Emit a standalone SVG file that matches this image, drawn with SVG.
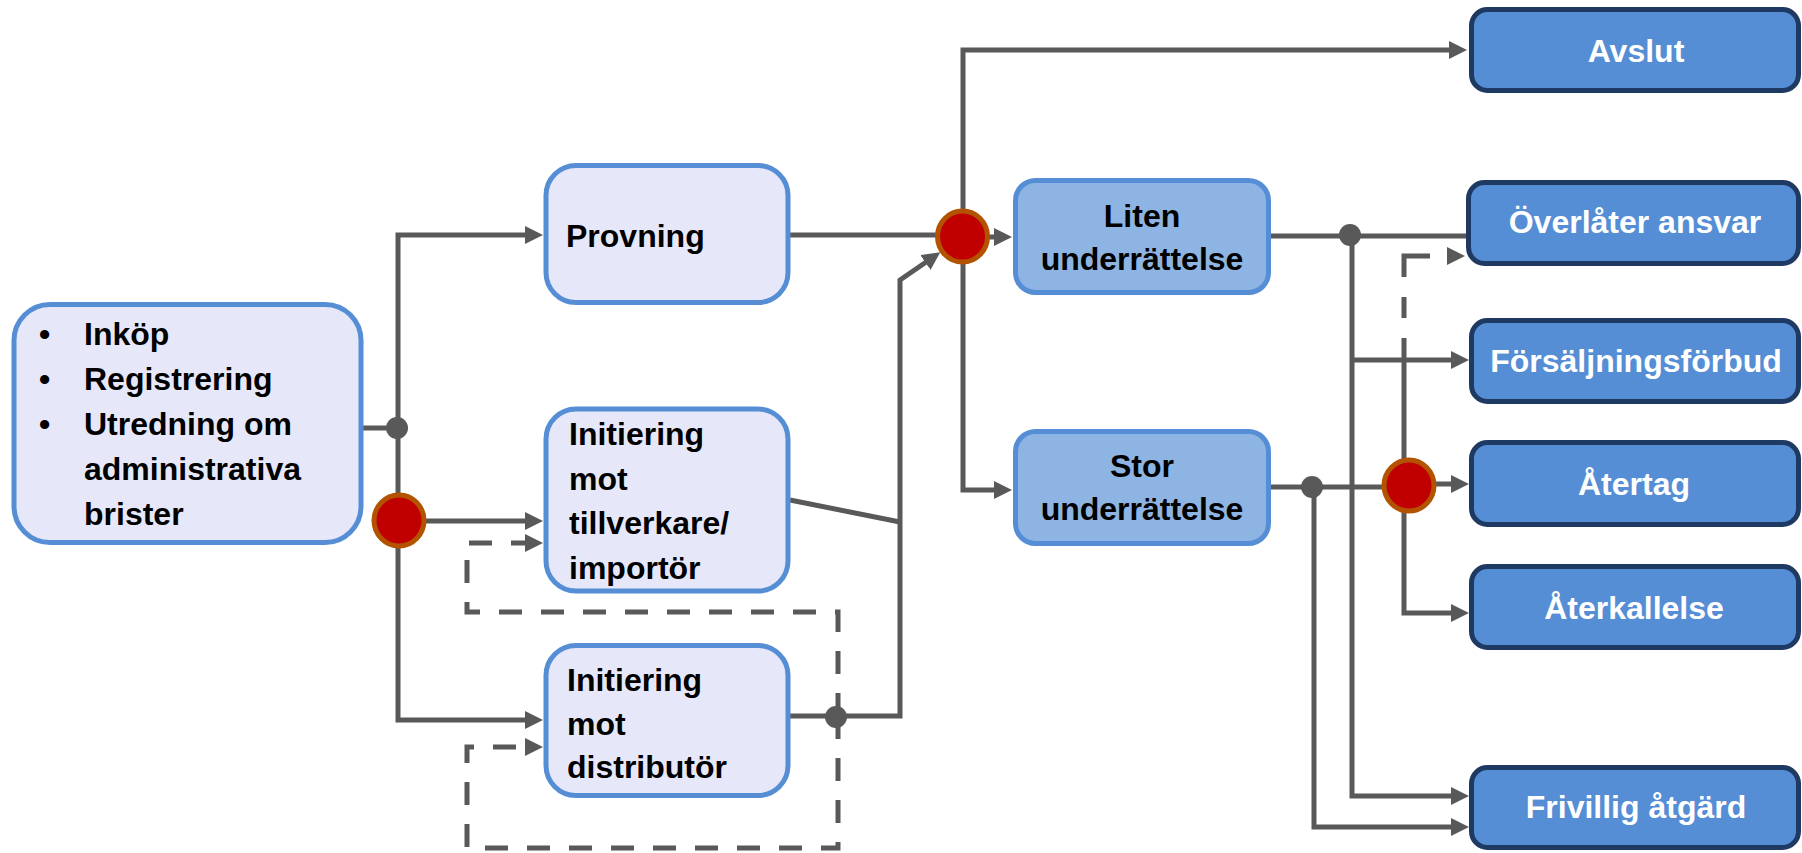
<svg xmlns="http://www.w3.org/2000/svg" width="1802" height="853" viewBox="0 0 1802 853">
  <style>
    .ln { fill: none; stroke: #595959; stroke-width: 5; }
    .arr { marker-end: url(#arrow); }
    .dash { stroke-dasharray: 23 19; }
    .dot { fill: #595959; }
    .light { fill: #E6E8FA; stroke: #558ED5; stroke-width: 5; }
    .mid { fill: #8EB4E3; stroke: #558ED5; stroke-width: 5; }
    .dark { fill: #558ED5; stroke: #1E3A62; stroke-width: 5; }
    .dec { fill: #C00000; stroke: #B35300; stroke-width: 5; }
    .t { font-family: "Liberation Sans", Arial, sans-serif; font-weight: bold; font-size: 32px; fill: #000; }
    .tw { font-family: "Liberation Sans", Arial, sans-serif; font-weight: bold; font-size: 32px; fill: #fff; text-anchor: middle; }
    .tc { text-anchor: middle; }
  </style>
  <defs>
    <marker id="arrow" markerUnits="userSpaceOnUse" markerWidth="18" markerHeight="18" viewBox="0 0 18 18" refX="8" refY="9" orient="auto">
      <path d="M0,0 L18,9 L0,18 z" fill="#595959"/>
    </marker>
  </defs>
  <rect width="1802" height="853" fill="#fff"/>

  <g id="connectors">
    <path class="ln" d="M363,428 H398"/>
    <path class="ln arr" d="M398,428 V235 H533"/>
    <path class="ln arr" d="M398,428 V720 H533"/>
    <path class="ln arr" d="M426,521 H533"/>
    <path class="ln dash arr" d="M838,716 V612 H467 V543 H533"/>
    <path class="ln dash arr" d="M838,716 V848 H467 V747 H533"/>
    <path class="ln" d="M790,500 L900,522"/>
    <path class="ln arr" d="M790,716 H900 V280 L932,258"/>
    <path class="ln" d="M790,235 H936"/>
    <path class="ln arr" d="M989,237 H1002"/>
    <path class="ln arr" d="M963,209 V50 H1457"/>
    <path class="ln arr" d="M963,264 V490 H1002"/>
    <path class="ln" d="M1271,236 H1468"/>
    <path class="ln arr" d="M1352,236 V796 H1459"/>
    <path class="ln arr" d="M1352,360 H1459"/>
    <path class="ln" d="M1271,487 H1383"/>
    <path class="ln arr" d="M1314,487 V827 H1459"/>
    <path class="ln arr" d="M1436,484 H1459"/>
    <path class="ln arr" d="M1404,512 V613 H1459"/>
    <path class="ln" d="M1404,459 V338"/>
    <path class="ln arr" style="stroke-dasharray: 0 20 21 20 47 1000" d="M1404,338 V256 H1455"/>
    <circle class="dot" cx="397" cy="428" r="11"/>
    <circle class="dot" cx="836" cy="717" r="11"/>
    <circle class="dot" cx="1350" cy="235" r="11"/>
    <circle class="dot" cx="1312" cy="487" r="11"/>
  </g>

  <g id="node-start">
    <rect class="light" x="14" y="304.5" width="347" height="238" rx="36"/>
    <text class="t" x="39" y="345">•</text><text class="t" x="84" y="345">Inköp</text>
    <text class="t" x="39" y="390">•</text><text class="t" x="84" y="390">Registrering</text>
    <text class="t" x="39" y="435">•</text><text class="t" x="84" y="435">Utredning om</text>
    <text class="t" x="84" y="480">administrativa</text>
    <text class="t" x="84" y="525">brister</text>
  </g>
  <g id="node-provning">
    <rect class="light" x="546" y="165.5" width="242" height="137" rx="30"/>
    <text class="t" x="566" y="247">Provning</text>
  </g>
  <g id="node-tillverkare">
    <rect class="light" x="546" y="409" width="242" height="182" rx="30"/>
    <text class="t" x="569" y="445">Initiering</text>
    <text class="t" x="569" y="489.5">mot</text>
    <text class="t" x="569" y="534">tillverkare/</text>
    <text class="t" x="569" y="578.5">importör</text>
  </g>
  <g id="node-distributor">
    <rect class="light" x="546" y="645.5" width="242" height="150" rx="30"/>
    <text class="t" x="567" y="691">Initiering</text>
    <text class="t" x="567" y="735">mot</text>
    <text class="t" x="567" y="778">distributör</text>
  </g>
  <g id="decision-1"><ellipse class="dec" cx="399" cy="520.5" rx="25" ry="25.5"/></g>
  <g id="decision-2"><ellipse class="dec" cx="962.5" cy="236.5" rx="25" ry="25.5"/></g>
  <g id="decision-3"><ellipse class="dec" cx="1409" cy="485.5" rx="25" ry="25.5"/></g>
  <g id="node-liten">
    <rect class="mid" x="1015.5" y="180.5" width="253" height="112" rx="20"/>
    <text class="t tc" x="1142" y="227">Liten</text>
    <text class="t tc" x="1142" y="270">underrättelse</text>
  </g>
  <g id="node-stor">
    <rect class="mid" x="1015.5" y="431.5" width="253" height="112" rx="20"/>
    <text class="t tc" x="1142" y="477">Stor</text>
    <text class="t tc" x="1142" y="520">underrättelse</text>
  </g>
  <g id="node-avslut">
    <rect class="dark" x="1471.5" y="9.5" width="327" height="81" rx="16"/>
    <text class="tw" x="1636" y="62">Avslut</text>
  </g>
  <g id="node-overlater">
    <rect class="dark" x="1468.5" y="182.5" width="330" height="81" rx="16"/>
    <text class="tw" x="1635" y="233">Överlåter ansvar</text>
  </g>
  <g id="node-forsaljningsforbud">
    <rect class="dark" x="1471.5" y="320.5" width="327" height="81" rx="16"/>
    <text class="tw" x="1636" y="372">Försäljningsförbud</text>
  </g>
  <g id="node-atertag">
    <rect class="dark" x="1471.5" y="442.5" width="327" height="82" rx="16"/>
    <text class="tw" x="1634" y="495">Återtag</text>
  </g>
  <g id="node-aterkallelse">
    <rect class="dark" x="1471.5" y="566.5" width="327" height="81" rx="16"/>
    <text class="tw" x="1634" y="619">Återkallelse</text>
  </g>
  <g id="node-frivillig">
    <rect class="dark" x="1471.5" y="767.5" width="327" height="80" rx="16"/>
    <text class="tw" x="1636" y="818">Frivillig åtgärd</text>
  </g>
</svg>
